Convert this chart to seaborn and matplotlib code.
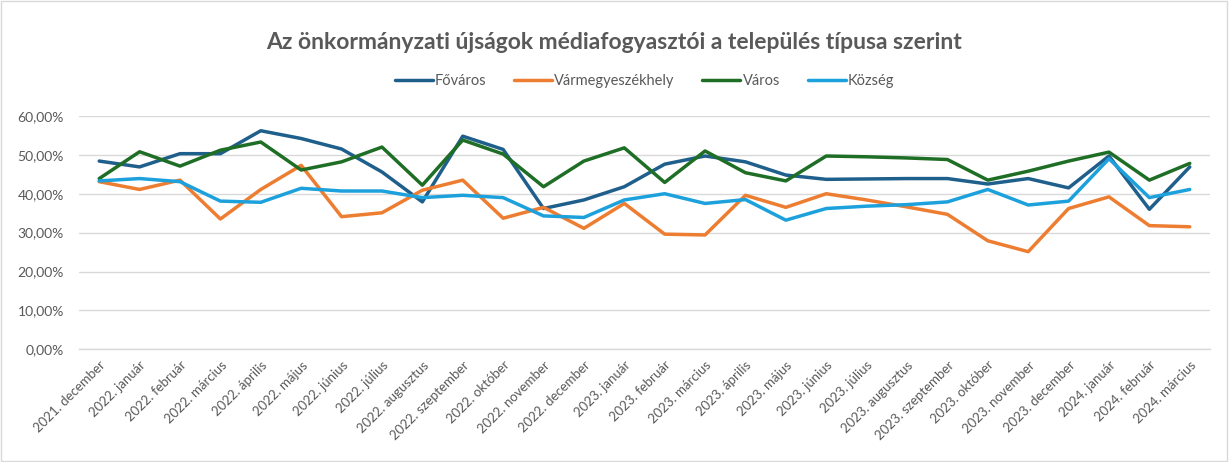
import pandas as pd
import numpy as np
import matplotlib.pyplot as plt
import matplotlib.ticker as mticker
import seaborn as sns

months = ["2021. december",
          "2022. január", "2022. február", "2022. március", "2022. április", "2022. május", "2022. június",
          "2022. július", "2022. augusztus", "2022. szeptember", "2022. október", "2022. november", "2022. december",
          "2023. január", "2023. február", "2023. március", "2023. április", "2023. május", "2023. június",
          "2023. július", "2023. augusztus", "2023. szeptember", "2023. október", "2023. november", "2023. december",
          "2024. január", "2024. február", "2024. március"]

fovaros = [48.4, 46.9, 50.3, 50.3, 56.2, 54.2, 51.5, 45.6, 37.9, 54.8, 51.4, 36.2, 38.4, 41.8,
           47.6, 49.7, 48.2, 44.8, 43.7, 43.8, 43.9, 43.9, 42.5, 43.9, 41.5, 49.7, 36.0, 46.9]
varmegye = [43.1, 41.1, 43.5, 33.5, 41.1, 47.3, 34.1, 35.1, 40.9, 43.5, 33.7, 36.5, 31.1, 37.5,
            29.6, 29.4, 39.6, 36.5, 40.0, 38.4, 36.6, 34.7, 27.9, 25.1, 36.2, 39.2, 31.8, 31.5]
varos = [43.9, 50.8, 47.1, 51.2, 53.3, 46.1, 48.2, 52.0, 42.2, 53.8, 50.2, 41.8, 48.4, 51.8,
         42.9, 51.0, 45.4, 43.3, 49.7, 49.5, 49.2, 48.8, 43.5, 45.8, 48.4, 50.7, 43.5, 47.8]
kozseg = [43.3, 43.9, 43.1, 38.1, 37.8, 41.4, 40.7, 40.7, 39.0, 39.6, 39.0, 34.3, 33.9, 38.4,
          40.0, 37.5, 38.5, 33.2, 36.2, 36.8, 37.2, 37.9, 41.1, 37.1, 38.1, 49.0, 39.0, 41.1]

series = {"Főváros": fovaros, "Vármegyeszékhely": varmegye, "Város": varos, "Község": kozseg}
colors = ["#1F5F8B", "#ED7D31", "#1F6E25", "#1DA1DC"]

rows = []
for name, vals in series.items():
    for i, v in enumerate(vals):
        rows.append({"idx": i, "value": v, "series": name})
df = pd.DataFrame(rows)

sns.set_style("white")
plt.rcParams["font.family"] = ["Lato", "DejaVu Sans"]
grey = "#595959"

fig = plt.figure(figsize=(12.29, 4.62), dpi=100)
ax = fig.add_axes([0.0643, 0.244, 0.9202, 0.505])

sns.lineplot(data=df, x="idx", y="value", hue="series", palette=colors,
             linewidth=2.5, sort=False, ax=ax, legend=True)

ax.set_xlim(-0.5, len(months) - 0.5)
ax.set_ylim(0, 60)
ax.set_yticks(np.arange(0, 61, 10))
ax.yaxis.set_major_formatter(mticker.FuncFormatter(lambda v, p: f"{v:.2f}%".replace(".", ",")))
ax.set_xticks(range(len(months)))
ax.set_xticklabels(months, rotation=45, ha="right", rotation_mode="anchor")
ax.set_xticks(np.arange(-0.5, len(months), 1), minor=True)
ax.tick_params(axis="x", which="major", length=0, pad=7, labelsize=9.5, colors=grey)
ax.tick_params(axis="x", which="minor", length=4, color="#D9D9D9", width=1)
ax.tick_params(axis="y", length=0, labelsize=10, colors=grey, pad=11)
ax.set_xlabel("")
ax.set_ylabel("")

ax.grid(axis="y", color="#D9D9D9", linewidth=1)
ax.set_axisbelow(True)
for s in ["top", "right", "left"]:
    ax.spines[s].set_visible(False)
ax.spines["bottom"].set_color("#D9D9D9")
ax.spines["bottom"].set_linewidth(1)

handles, labels = ax.get_legend_handles_labels()
ax.legend(handles, labels, loc="center", bbox_to_anchor=(0.5, 1.15), ncol=4, frameon=False,
          fontsize=10.5, labelcolor=grey, handlelength=2.6, handletextpad=0.15, columnspacing=1.9)

fig.text(0.5, 0.908, "Az önkormányzati újságok médiafogyasztói a település típusa szerint",
         ha="center", va="center", fontsize=16.5, fontweight="bold", color=grey)

# chart area border
fig.patches.append(plt.Rectangle((0.001, 0.002), 0.997, 0.995, transform=fig.transFigure,
                                 fill=False, edgecolor="#D9D9D9", linewidth=1))

fig.savefig("out.png", dpi=100)
